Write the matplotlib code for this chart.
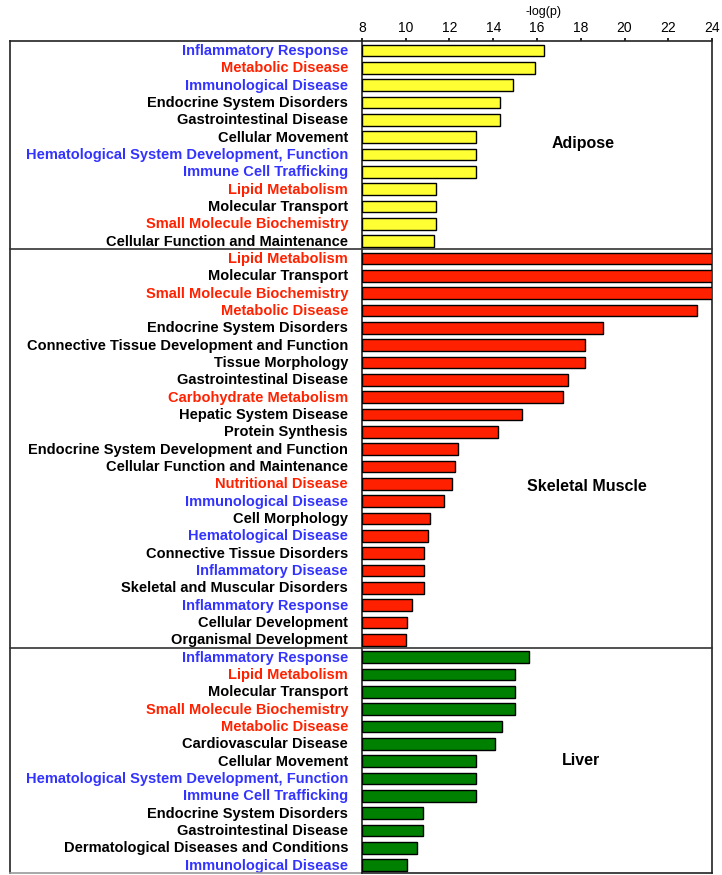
import matplotlib
matplotlib.use('Agg')
import matplotlib.pyplot as plt

plt.rcParams['font.family'] = ['Liberation Sans', 'DejaVu Sans']

# ---------------- data ----------------
adipose_terms = ["Inflammatory Response", "Metabolic Disease", "Immunological Disease",
                 "Endocrine System Disorders", "Gastrointestinal Disease", "Cellular Movement",
                 "Hematological System Development, Function", "Immune Cell Trafficking",
                 "Lipid Metabolism", "Molecular Transport", "Small Molecule Biochemistry",
                 "Cellular Function and Maintenance"]
adipose_values = [16.3, 15.9, 14.9, 14.3, 14.3, 13.2, 13.2, 13.2, 11.4, 11.4, 11.4, 11.3]
adipose_groups = ["b", "r", "b", "k", "k", "k", "b", "b", "r", "k", "r", "k"]

muscle_terms = ["Lipid Metabolism", "Molecular Transport", "Small Molecule Biochemistry",
                "Metabolic Disease", "Endocrine System Disorders",
                "Connective Tissue Development and Function", "Tissue Morphology",
                "Gastrointestinal Disease", "Carbohydrate Metabolism", "Hepatic System Disease",
                "Protein Synthesis", "Endocrine System Development and Function",
                "Cellular Function and Maintenance", "Nutritional Disease",
                "Immunological Disease", "Cell Morphology", "Hematological Disease",
                "Connective Tissue Disorders", "Inflammatory Disease",
                "Skeletal and Muscular Disorders", "Inflammatory Response",
                "Cellular Development", "Organismal Development"]
muscle_values = [24.0, 24.0, 24.0, 23.3, 19.0, 18.2, 18.2, 17.4, 17.2, 15.3, 14.2, 12.4,
                 12.25, 12.1, 11.75, 11.1, 11.0, 10.85, 10.85, 10.85, 10.3, 10.05, 10.0]
muscle_groups = ["r", "k", "r", "r", "k", "k", "k", "k", "r", "k", "k", "k", "k", "r", "b",
                 "k", "b", "k", "b", "k", "b", "k", "k"]

liver_terms = ["Inflammatory Response", "Lipid Metabolism", "Molecular Transport",
               "Small Molecule Biochemistry", "Metabolic Disease", "Cardiovascular Disease",
               "Cellular Movement", "Hematological System Development, Function",
               "Immune Cell Trafficking", "Endocrine System Disorders",
               "Gastrointestinal Disease", "Dermatological Diseases and Conditions",
               "Immunological Disease"]
liver_values = [15.65, 15.0, 15.0, 15.0, 14.4, 14.1, 13.2, 13.2, 13.2, 10.8, 10.8, 10.5, 10.05]
liver_groups = ["b", "r", "k", "r", "r", "k", "k", "b", "b", "k", "k", "k", "b"]

panel_names = ["Adipose", "Skeletal Muscle", "Liver"]
x_ticks = [8, 10, 12, 14, 16, 18, 20, 22, 24]
x_label = "-log(p)"

# ---------------- style ----------------
bar_colors = ["#FFFF33", "#FF2000", "#008000"]
label_colors = {"b": "#3333FF", "r": "#FF2200", "k": "#000000"}
W, H = 722, 875

fig = plt.figure(figsize=(W / 100, H / 100), dpi=100)
ax = fig.add_axes([362 / W, 1 - 873 / H, (712 - 362) / W, (873 - 41) / H])

panels = [(adipose_terms, adipose_values, adipose_groups),
          (muscle_terms, muscle_values, muscle_groups),
          (liver_terms, liver_values, liver_groups)]
name_pos = [(18.1, 5.4), (18.3, 25.2), (18.0, 41.0)]

all_labels, all_colors = [], []
start = 0
for k, (terms, vals, groups) in enumerate(panels):
    ys = [y + 0.05 for y in range(start, start + len(terms))]
    ax.barh(ys, [v - 8 for v in vals], left=8, height=0.68,
            color=bar_colors[k], edgecolor="black", linewidth=1.0, zorder=3)
    all_labels += terms
    all_colors += [label_colors[g] for g in groups]
    ax.text(name_pos[k][0], name_pos[k][1], panel_names[k], ha="center", va="center",
            fontsize=11.5, fontweight="bold")
    start += len(terms)
    if k < len(panels) - 1:
        ax.axhline(start - 0.5, xmin=(10 - 362) / 350, xmax=1, color="#333333",
                   linewidth=1.2, clip_on=False, zorder=4)

n = start
ax.set_xlim(8, 24)
ax.set_ylim(n - 0.5, -0.5)
ax.set_yticks([y + 0.07 for y in range(n)])
ax.set_yticklabels(all_labels, fontsize=10.5, fontweight="bold", va="center")
for t, c in zip(ax.get_yticklabels(), all_colors):
    t.set_color(c)
ax.tick_params(axis="y", length=0, pad=10)

ax.xaxis.tick_top()
ax.set_xticks(x_ticks)
ax.set_xticklabels([str(v) for v in x_ticks], fontsize=10)
ax.tick_params(axis="x", direction="out", length=2.5, width=1.2, pad=2)
ax.xaxis.set_label_position("top")
ax.set_xlabel(x_label, fontsize=9, labelpad=4)
ax.xaxis.label.set_x(0.52)

for s in ax.spines.values():
    s.set_linewidth(1.2)
    s.set_color("#222222")

# outer box around labels
ax.plot([(10 - 362) / 350, (10 - 362) / 350], [0, 1], transform=ax.transAxes,
        color="#222222", linewidth=1.2, clip_on=False)
ax.plot([(10 - 362) / 350, 0], [1, 1], transform=ax.transAxes,
        color="#222222", linewidth=1.2, clip_on=False)
ax.plot([(10 - 362) / 350, 0], [0, 0], transform=ax.transAxes,
        color="#999999", linewidth=1.2, clip_on=False)

fig.savefig("out.png", dpi=100)
